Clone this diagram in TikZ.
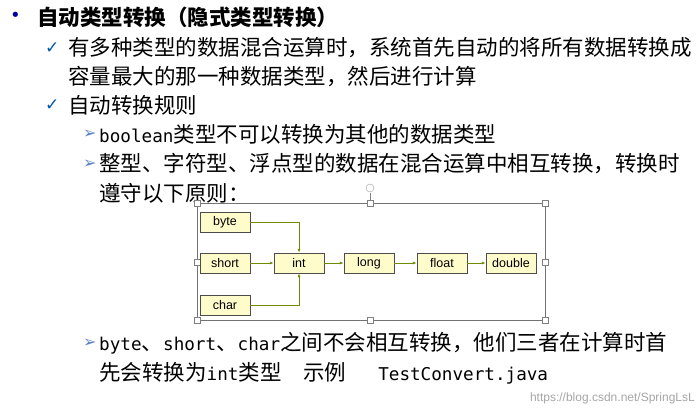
\documentclass[tikz,border=0pt]{standalone}
\usepackage{fontspec}
\setmainfont{Noto Sans CJK SC}
\newfontfamily\boxfont{Liberation Sans}
\newfontfamily\monofont[Scale=0.82]{DejaVu Sans Mono}
\newfontfamily\symfont{DejaVu Sans}
\usetikzlibrary{arrows.meta}
\begin{document}
\begin{tikzpicture}[x=1pt,y=-1pt,
  txt/.style={anchor=west,inner sep=0pt,font=\fontsize{21.5}{23}\selectfont},
  tbox/.style={draw=black!70,fill=yellow!20,minimum height=20pt,inner sep=2pt,font=\boxfont\fontsize{12.5}{13}\selectfont},
  conn/.style={draw={rgb,255:red,110;green,140;blue,0},line width=0.9pt,-{Latex[length=4pt,width=3pt]}},
  handle/.style={draw=black!50,fill=white,minimum size=6pt,inner sep=0pt}]
\useasboundingbox (0,0) rectangle (699,413);
\fill[white] (0,0) rectangle (699,413);
\node[txt,text={rgb,255:red,0;green,0;blue,150}] (b0) at (10,17) {\symfont\fontsize{18}{18}\selectfont •};
\node[txt,font=\bfseries\fontsize{21.5}{23}\selectfont] (t0) at (37,17) {自动类型转换（隐式类型转换）};
\node[txt,text={rgb,255:red,0;green,90;blue,170}] (c1) at (45,48) {\symfont\fontsize{17}{17}\selectfont ✓};
\node[txt] (t1) at (68,48) {有多种类型的数据混合运算时，系统首先自动的将所有数据转换成};
\node[txt] (t2) at (68,77) {容量最大的那一种数据类型，然后进行计算};
\node[txt,text={rgb,255:red,0;green,90;blue,170}] (c2) at (45,105) {\symfont\fontsize{17}{17}\selectfont ✓};
\node[txt] (t3) at (68,105) {自动转换规则};
\node[txt,text={rgb,255:red,90;green,130;blue,200}] (a1) at (83,134) {\symfont\fontsize{16}{16}\selectfont ➢};
\node[txt] (t4) at (99,134) {{\monofont boolean}类型不可以转换为其他的数据类型};
\node[txt,text={rgb,255:red,90;green,130;blue,200}] (a2) at (83,164) {\symfont\fontsize{16}{16}\selectfont ➢};
\node[txt] (t5) at (99,164) {整型、字符型、浮点型的数据在混合运算中相互转换，转换时};
\node[txt] (t6) at (99,193) {遵守以下原则：};
\node[txt,text={rgb,255:red,90;green,130;blue,200}] (a3) at (83,343) {\symfont\fontsize{16}{16}\selectfont ➢};
\node[txt] (t7) at (99,343) {{\monofont byte}、{\monofont short}、{\monofont char}之间不会相互转换，他们三者在计算时首};
\node[txt] (t8) at (99,373) {先会转换为{\monofont int}类型\quad 示例\quad\enspace{\monofont TestConvert.java}};
\node[txt,anchor=east,text=black!35,font=\boxfont\fontsize{12}{12}\selectfont] (wm) at (695,398) {https://blog.csdn.net/SpringLsL};
% frame
\draw[black!55,line width=0.8pt] (197,203) rectangle (545,320);
\draw[black!50] (370,203) -- (370,193);
\node[draw=black!40,circle,minimum size=8pt,inner sep=0pt] (rot) at (370,188) {};
\foreach \p [count=\i] in {(197,203),(370,203),(545,203),(197,262),(545,262),(197,320),(370,320),(545,320)}
  \node[handle] (h\i) at \p {};
% boxes
\node[tbox,minimum width=50pt] (byte) at (225,222) {byte};
\node[tbox,minimum width=50pt] (short) at (225,263) {short};
\node[tbox,minimum width=50pt] (char) at (225,305) {char};
\node[tbox,minimum width=50pt] (int) at (299,263) {int};
\node[tbox,minimum width=50pt] (long) at (369,263) {long};
\node[tbox,minimum width=50pt] (float) at (442,263) {float};
\node[tbox,minimum width=50pt] (double) at (511,263) {double};
\draw[conn] (byte.east) -| (int.north);
\draw[conn] (char.east) -| (int.south);
\draw[conn] (short) -- (int);
\draw[conn] (int) -- (long);
\draw[conn] (long) -- (float);
\draw[conn] (float) -- (double);
\end{tikzpicture}
\end{document}
